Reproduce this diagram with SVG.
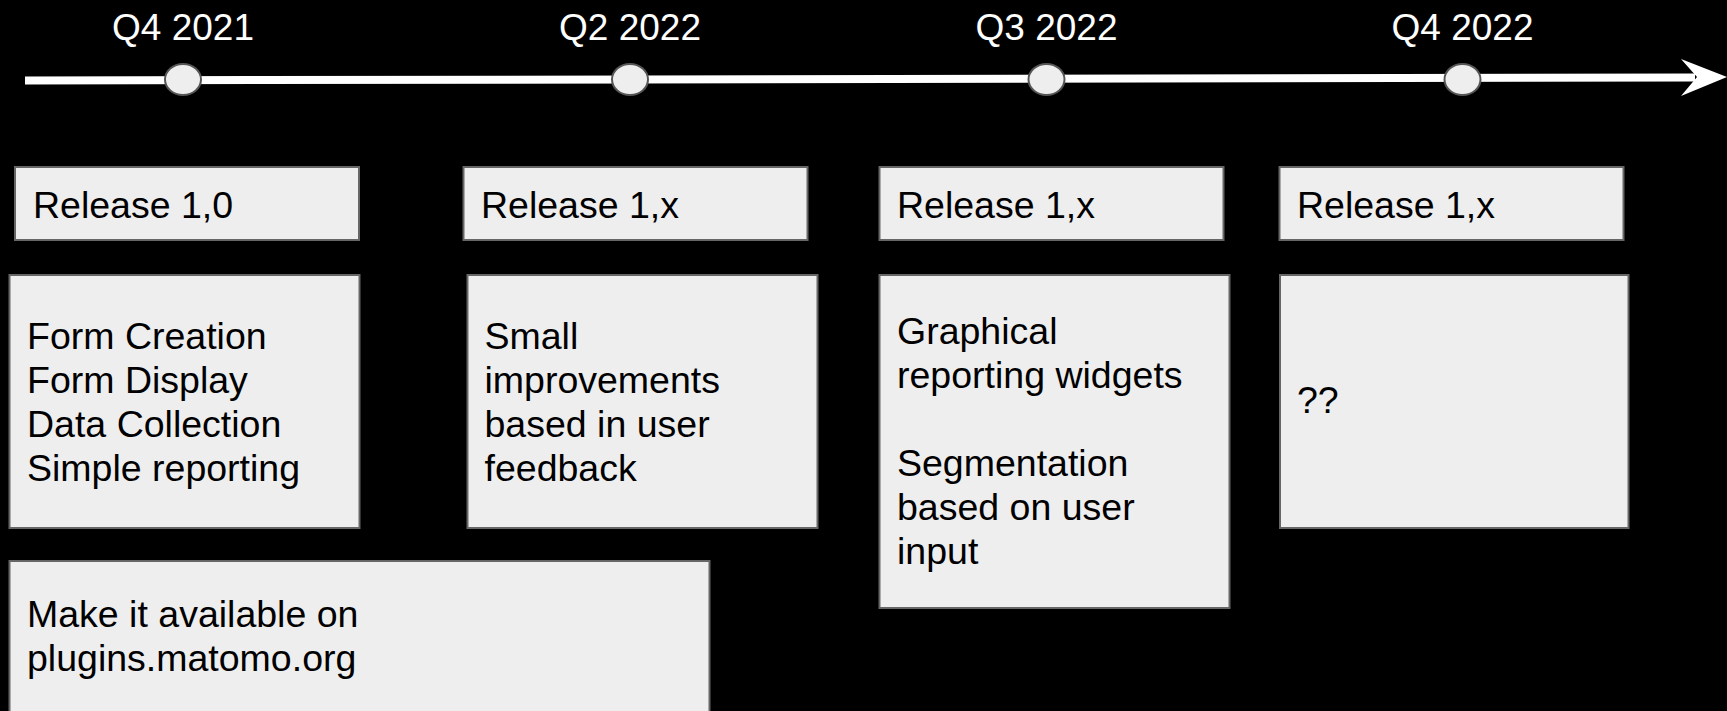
<svg xmlns="http://www.w3.org/2000/svg" width="1727" height="711" viewBox="0 0 1727 711">
<style>
.box{fill:#eeeeee;stroke:#666666;stroke-width:2}
.t{font-family:"Liberation Sans",Arial,sans-serif;font-size:37.5px;fill:#000000}
.q{font-family:"Liberation Sans",Arial,sans-serif;font-size:37px;fill:#ffffff;text-anchor:middle}
.dot{fill:#eeeeee;stroke:#555555;stroke-width:2}
</style>
<rect x="0" y="0" width="1727" height="711" fill="#000000"/>
<g id="connectors">
<line x1="25" y1="80.5" x2="1695" y2="77.5" stroke="#ffffff" stroke-width="8"/>
<path d="M1681,59 L1727,77 L1681,96 L1697,77 Z" fill="#ffffff"/>
</g>
<g id="m1"><ellipse class="dot" cx="183" cy="79.5" rx="18" ry="15.5"/><text class="q" x="183" y="40">Q4 2021</text></g>
<g id="m2"><ellipse class="dot" cx="630" cy="79.5" rx="18" ry="15.5"/><text class="q" x="630" y="40">Q2 2022</text></g>
<g id="m3"><ellipse class="dot" cx="1046.5" cy="79.5" rx="18" ry="15.5"/><text class="q" x="1046.5" y="40">Q3 2022</text></g>
<g id="m4"><ellipse class="dot" cx="1462.5" cy="79.5" rx="18" ry="15.5"/><text class="q" x="1462.5" y="40">Q4 2022</text></g>
<g id="r1"><rect class="box" x="15" y="167" width="344" height="73"/><text class="t" x="33" y="217.5">Release 1,0</text></g>
<g id="r2"><rect class="box" x="463.5" y="167" width="344" height="73"/><text class="t" x="481" y="217.5">Release 1,x</text></g>
<g id="r3"><rect class="box" x="879.5" y="167" width="344" height="73"/><text class="t" x="897" y="217.5">Release 1,x</text></g>
<g id="r4"><rect class="box" x="1279.5" y="167" width="344" height="73"/><text class="t" x="1297" y="217.5">Release 1,x</text></g>
<g id="c1"><rect class="box" x="9.5" y="275" width="350" height="253"/>
<text class="t" x="27" y="349">Form Creation</text>
<text class="t" x="27" y="393">Form Display</text>
<text class="t" x="27" y="437">Data Collection</text>
<text class="t" x="27" y="481">Simple reporting</text></g>
<g id="c2"><rect class="box" x="467.5" y="275" width="350" height="253"/>
<text class="t" x="484.5" y="349">Small</text>
<text class="t" x="484.5" y="393">improvements</text>
<text class="t" x="484.5" y="437">based in user</text>
<text class="t" x="484.5" y="481">feedback</text></g>
<g id="c3"><rect class="box" x="879.5" y="275" width="350" height="333"/>
<text class="t" x="897" y="344">Graphical</text>
<text class="t" x="897" y="388">reporting widgets</text>
<text class="t" x="897" y="476">Segmentation</text>
<text class="t" x="897" y="520">based on user</text>
<text class="t" x="897" y="564">input</text></g>
<g id="c4"><rect class="box" x="1280" y="275" width="348.5" height="253"/>
<text class="t" x="1297" y="413">??</text></g>
<g id="c5"><rect class="box" x="9.5" y="561" width="700" height="160"/>
<text class="t" x="27" y="627">Make it available on</text>
<text class="t" x="27" y="671">plugins.matomo.org</text></g>
</svg>
